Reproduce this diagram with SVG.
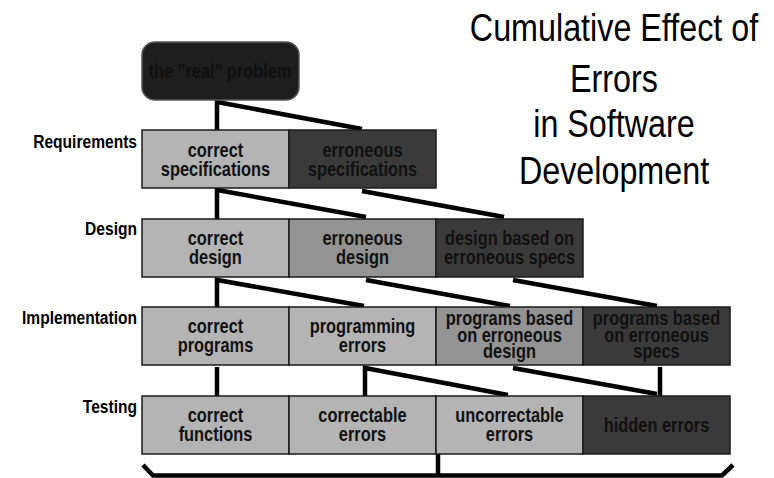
<svg xmlns="http://www.w3.org/2000/svg" width="774" height="478" viewBox="0 0 774 478">
<style>
  .box { stroke: #1a1a1a; stroke-width: 1.5; }
  .light { fill: #b4b4b4; }
  .mid { fill: #939393; }
  .dark { fill: #3a3a3a; }
  .top { fill: #1e1e1e; stroke: #555; stroke-width: 1.5; }
  .bt { font-family: "Liberation Sans", Arial, sans-serif; font-weight: bold; font-size: 20px; fill: #111; text-anchor: middle;
        transform-box: fill-box; transform-origin: center; transform: scaleX(0.82); }
  .lbl { font-family: "Liberation Sans", Arial, sans-serif; font-weight: bold; font-size: 19px; fill: #000; text-anchor: end;
        transform-box: fill-box; transform-origin: right center; transform: scaleX(0.82); }
  .title { font-family: "Liberation Sans", Arial, sans-serif; font-size: 38px; fill: #000; text-anchor: middle;
        transform-box: fill-box; transform-origin: center; transform: scaleX(0.85); }
  .con { fill: none; stroke: #000; stroke-width: 4.5; stroke-linejoin: miter; stroke-linecap: butt; }
</style>

<g id="title">
  <text class="title" x="614" y="41">Cumulative Effect of</text>
  <text class="title" x="614" y="92">Errors</text>
  <text class="title" x="614" y="137">in Software</text>
  <text class="title" x="614" y="184">Development</text>
</g>

<g id="connectors">
  <path class="con" d="M217,130 V102 L362,129"/>
  <path class="con" d="M217,219 V190 L366,217"/>
  <path class="con" d="M362,191 L504,217"/>
  <path class="con" d="M217,307 V280 L364,306"/>
  <path class="con" d="M366,280 L510,306"/>
  <path class="con" d="M513,280 L657,306"/>
  <path class="con" d="M217,367 V396"/>
  <path class="con" d="M365,396 V368 L508,395"/>
  <path class="con" d="M513,368 L657,394"/>
  <path class="con" d="M660,367 V396"/>
  <path class="con" d="M143,465 L153,475.5 L722,475.5 L733,465"/>
  <path class="con" d="M438,454 V475"/>
</g>

<g id="labels">
  <text class="lbl" x="137" y="148">Requirements</text>
  <text class="lbl" x="137" y="235">Design</text>
  <text class="lbl" x="137" y="324">Implementation</text>
  <text class="lbl" x="137" y="413">Testing</text>
</g>

<g id="real-problem">
  <rect class="top" x="142" y="42" width="157" height="58" rx="13"/>
  <text class="bt" x="220" y="78">the "real" problem</text>
</g>

<g id="correct-specifications">
  <rect class="box light" x="142" y="130" width="147" height="58"/>
  <text class="bt" x="215.5" y="157"><tspan x="215.5">correct</tspan><tspan x="215.5" dy="19">specifications</tspan></text>
</g>
<g id="erroneous-specifications">
  <rect class="box dark" x="289" y="130" width="147" height="58"/>
  <text class="bt" x="362.5" y="157"><tspan x="362.5">erroneous</tspan><tspan x="362.5" dy="19">specifications</tspan></text>
</g>

<g id="correct-design">
  <rect class="box light" x="142" y="219" width="147" height="58"/>
  <text class="bt" x="215.5" y="245"><tspan x="215.5">correct</tspan><tspan x="215.5" dy="19">design</tspan></text>
</g>
<g id="erroneous-design">
  <rect class="box mid" x="289" y="219" width="147" height="58"/>
  <text class="bt" x="362.5" y="245"><tspan x="362.5">erroneous</tspan><tspan x="362.5" dy="19">design</tspan></text>
</g>
<g id="design-erroneous-specs">
  <rect class="box dark" x="436" y="219" width="147" height="58"/>
  <text class="bt" x="509.5" y="245"><tspan x="509.5">design based on</tspan><tspan x="509.5" dy="19">erroneous specs</tspan></text>
</g>

<g id="correct-programs">
  <rect class="box light" x="142" y="307" width="147" height="58"/>
  <text class="bt" x="215.5" y="333"><tspan x="215.5">correct</tspan><tspan x="215.5" dy="19">programs</tspan></text>
</g>
<g id="programming-errors">
  <rect class="box light" x="289" y="307" width="147" height="58"/>
  <text class="bt" x="362.5" y="333"><tspan x="362.5">programming</tspan><tspan x="362.5" dy="19">errors</tspan></text>
</g>
<g id="programs-erroneous-design">
  <rect class="box mid" x="436" y="307" width="147" height="58"/>
  <text class="bt" x="509.5" y="325"><tspan x="509.5">programs based</tspan><tspan x="509.5" dy="17">on erroneous</tspan><tspan x="509.5" dy="16">design</tspan></text>
</g>
<g id="programs-erroneous-specs">
  <rect class="box dark" x="583" y="307" width="147" height="58"/>
  <text class="bt" x="656.5" y="325"><tspan x="656.5">programs based</tspan><tspan x="656.5" dy="17">on erroneous</tspan><tspan x="656.5" dy="16">specs</tspan></text>
</g>

<g id="correct-functions">
  <rect class="box light" x="142" y="396" width="147" height="58"/>
  <text class="bt" x="215.5" y="422"><tspan x="215.5">correct</tspan><tspan x="215.5" dy="19">functions</tspan></text>
</g>
<g id="correctable-errors">
  <rect class="box light" x="289" y="396" width="147" height="58"/>
  <text class="bt" x="362.5" y="422"><tspan x="362.5">correctable</tspan><tspan x="362.5" dy="19">errors</tspan></text>
</g>
<g id="uncorrectable-errors">
  <rect class="box light" x="436" y="396" width="147" height="58"/>
  <text class="bt" x="509.5" y="422"><tspan x="509.5">uncorrectable</tspan><tspan x="509.5" dy="19">errors</tspan></text>
</g>
<g id="hidden-errors">
  <rect class="box dark" x="583" y="396" width="147" height="58"/>
  <text class="bt" x="656.5" y="432">hidden errors</text>
</g>
</svg>
